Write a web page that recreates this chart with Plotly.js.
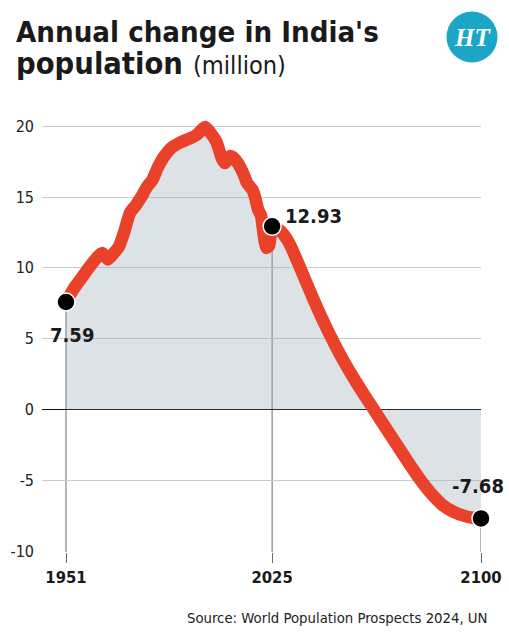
<!DOCTYPE html>
<html><head><meta charset="utf-8">
<script src="https://cdn.plot.ly/plotly-3.0.1.min.js"></script>
<style>html,body{margin:0;padding:0;background:#fff}#chart{width:509px;height:637px}</style>
</head><body><div id="chart"></div>
<script>
// ---- data ----
const years = [1951,1954,1957,1959,1962,1964,1966,1968,1970,1972,1974,1976,1978,1980,1982,1984,1986,1989,1992,1995,1998,2000,2001,2003,2005,2007,2008,2010,2011,2013,2015,2016,2018,2019,2020,2021,2022,2023,2024,2025,
  2028,2031,2034,2037,2040,2043,2046,2049,2052,2055,2058,2062,2066,2070,2074,2078,2082,2086,2090,2094,2097,2100];
const change = [7.59,8.6,9.4,9.95,10.7,11.05,10.6,11.0,11.5,12.6,13.9,14.4,15.0,15.7,16.2,17.1,17.8,18.5,18.85,19.1,19.4,19.8,19.95,19.5,18.9,17.7,17.4,17.9,17.8,17.3,16.5,16.0,15.5,14.9,14.1,13.7,12.3,11.4,11.6,12.93,
  12.6,11.8,10.5,9.1,7.72,6.4,5.17,4.03,2.98,1.99,1.06,-0.15,-1.35,-2.55,-3.75,-4.9,-5.9,-6.7,-7.2,-7.5,-7.63,-7.68];
const keyYears = [1951, 2025, 2100];
const keyValues = [7.59, 12.93, -7.68];
const keyLabels = ["7.59", "12.93", "-7.68"];
const yTickVals = [-10, -5, 0, 5, 10, 15, 20];
const yTickText = ["-10", "-5", "0", "5", "10", "15", "20"];
const xTickVals = [1951, 2025, 2100];
const xTickText = ["1951", "2025", "2100"];
const titleLine1 = "Annual change in India's";
const titleLine2a = "population";
const titleLine2b = "(million)";
const sourceText = "Source: World Population Prospects 2024, UN";

// ---- layout helpers ----
const W = 509, H = 637, L = 42, R = 28, T = 112, B = 85;
const PW = W - L - R, PH = H - T - B;
const px = x => (x - L) / PW;
const py = y => (H - B - y) / PH;
const FONT = "DejaVu Sans Condensed, Liberation Sans, sans-serif";
const ctx = document.createElement('canvas').getContext('2d');
function fit(text, weight, target) {
  ctx.font = weight + ' 100px "DejaVu Sans Condensed", "Liberation Sans", sans-serif';
  return 100 * target / ctx.measureText(text).width;
}
const f1 = fit(titleLine1, 'bold', 363);
const f2 = fit(titleLine2a, 'bold', 167);
const f3 = fit(titleLine2b, 'normal', 93);
const fs = fit(sourceText, 'normal', 301);
const fl = fit("12.93", 'bold', 57);

const traces = [
  { x: years, y: change, type: 'scatter', mode: 'lines', fill: 'tozeroy',
    fillcolor: 'rgba(160,174,186,0.36)', line: { width: 0, shape: 'spline', smoothing: 0.6 }, hoverinfo: 'skip' },
  { x: years, y: change, type: 'scatter', mode: 'lines',
    line: { color: '#ea412a', width: 12.5, shape: 'spline', smoothing: 0.6 }, hoverinfo: 'skip' },
  { x: keyYears, y: keyValues, type: 'scatter', mode: 'markers', cliponaxis: false,
    marker: { size: 18, color: '#000', line: { color: '#fff', width: 1.5 } }, hoverinfo: 'skip' }
];

const shapes = keyYears.map((yr, i) => ({
  type: 'line', xref: 'x', yref: 'y', x0: yr, x1: yr, y0: keyValues[i], y1: -10.05,
  line: { color: '#5f6e79', width: 1 }, layer: 'below'
}));
shapes.push({ type: 'circle', xref: 'paper', yref: 'paper', x0: px(446.5), x1: px(497.5), y0: py(62.5), y1: py(11.5),
  fillcolor: '#1ba6c8', line: { width: 0 } });

const labelShift = [[6, -33], [41, 10], [-3, 32]];
const annotations = keyYears.map((yr, i) => ({
  x: yr, y: keyValues[i], xref: 'x', yref: 'y', text: '<b>' + keyLabels[i] + '</b>', showarrow: false,
  xshift: labelShift[i][0], yshift: labelShift[i][1], font: { family: FONT, size: fl, color: '#1a1a1a' }
}));
annotations.push(
  { xref: 'paper', yref: 'paper', x: px(14), y: py(43 - 0.39 * f1), xanchor: 'left', yanchor: 'middle', showarrow: false,
    text: '<b>' + titleLine1 + '</b>', font: { family: FONT, size: f1, color: '#1a1a1a' } },
  { xref: 'paper', yref: 'paper', x: px(14), y: py(75 - 0.39 * f2), xanchor: 'left', yanchor: 'middle', showarrow: false,
    text: '<b>' + titleLine2a + '</b>', font: { family: FONT, size: f2, color: '#1a1a1a' } },
  { xref: 'paper', yref: 'paper', x: px(191), y: py(75 - 0.39 * f3), xanchor: 'left', yanchor: 'middle', showarrow: false,
    text: titleLine2b, font: { family: FONT, size: f3, color: '#1a1a1a' } },
  { xref: 'paper', yref: 'paper', x: px(472), y: py(37), xanchor: 'center', yanchor: 'middle', showarrow: false,
    text: '<b><i>HT</i></b>', font: { family: 'Liberation Serif, serif', size: 25, color: '#ffffff' } },
  { xref: 'paper', yref: 'paper', x: px(490), y: py(617), xanchor: 'right', yanchor: 'middle', showarrow: false,
    text: sourceText, font: { family: FONT, size: fs, color: '#222' } }
);

const layout = {
  width: W, height: H, margin: { l: L, r: R, t: T, b: B, pad: 0 },
  paper_bgcolor: '#fff', plot_bgcolor: '#fff', showlegend: false,
  xaxis: { range: [1951 - 24 / 2.785, 2100], tickvals: xTickVals, ticktext: xTickText,
    ticks: 'outside', ticklen: 10, tickcolor: '#5f6e79', tickwidth: 1,
    showgrid: false, zeroline: false, showline: false,
    tickfont: { family: FONT, size: 16.5, color: '#1a1a1a', weight: 'bold' } },
  yaxis: { range: [-10.05, 21], tickvals: yTickVals, ticktext: yTickText,
    showgrid: true, gridcolor: '#c6ccd1', gridwidth: 1,
    zeroline: true, zerolinecolor: '#111', zerolinewidth: 1.2, showline: false,
    ticks: '', ticklabelstandoff: 7,
    tickfont: { family: FONT, size: 16, color: '#222' } },
  shapes: shapes, annotations: annotations
};

Plotly.newPlot('chart', traces, layout, { staticPlot: true, displayModeBar: false });
</script></body></html>
